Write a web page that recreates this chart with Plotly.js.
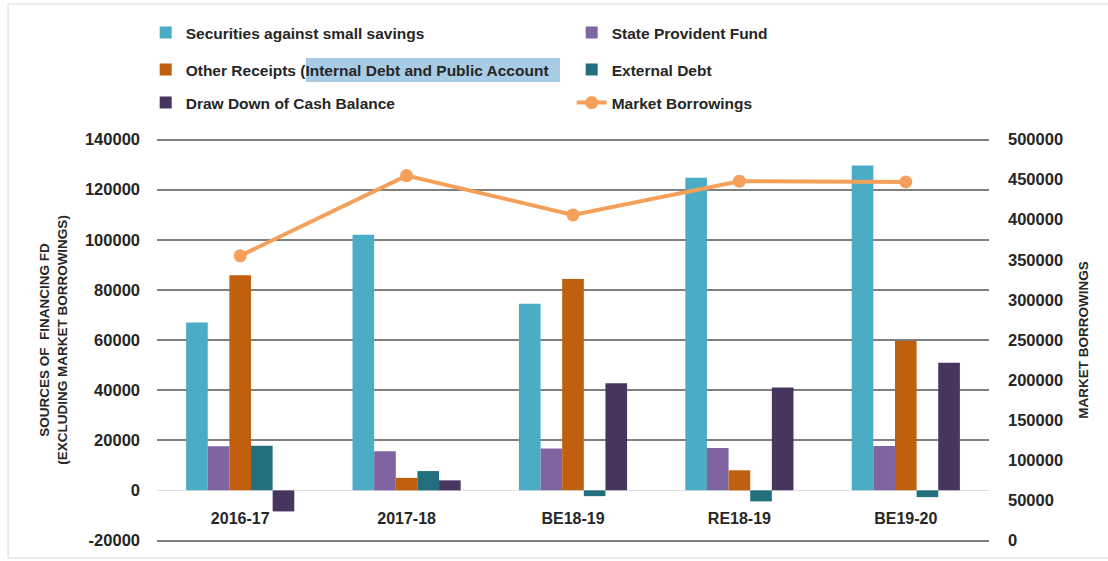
<!DOCTYPE html>
<html>
<head>
<meta charset="utf-8">
<script src="https://cdn.plot.ly/plotly-3.0.1.min.js"></script>
<style>html,body{margin:0;padding:0;background:#fff;}#chart{width:1108px;height:561px;}</style>
</head>
<body>
<div id="chart"></div>
<script>
var categories = ["2016-17", "2017-18", "BE18-19", "RE18-19", "BE19-20"];
var securitiesSmallSavings = [67000, 102000, 74500, 124700, 129600];
var stateProvidentFund = [17600, 15600, 16700, 16900, 17700];
var otherReceipts = [85800, 5000, 84300, 8000, 59600];
var externalDebt = [17800, 7700, -2300, -4400, -2700];
var drawDownCashBalance = [-8400, 4000, 42700, 41000, 50900];
var marketBorrowings = [355000, 455000, 406000, 448000, 447000];

var leftTicks = [-20000, 0, 20000, 40000, 60000, 80000, 100000, 120000, 140000];
var rightTicks = [0, 50000, 100000, 150000, 200000, 250000, 300000, 350000, 400000, 450000, 500000];

var seriesNames = [
  "Securities against small savings",
  "State Provident Fund",
  "Other Receipts (Internal Debt and Public Account",
  "External Debt",
  "Draw Down of Cash Balance",
  "Market Borrowings"
];

var barColors = ["#4BACC6", "#8064A2", "#C0600E", "#22707E", "#47345F"];
var lineColor = "#F5A05A";

var barSeries = [securitiesSmallSavings, stateProvidentFund, otherReceipts, externalDebt, drawDownCashBalance];
var legendIds = ["legend", "legend", "legend2", "legend2", "legend3"];

var traces = barSeries.map(function (vals, i) {
  return {
    type: "bar",
    name: seriesNames[i],
    x: categories,
    y: vals,
    marker: {color: barColors[i]},
    legend: legendIds[i]
  };
});

traces.push({
  type: "scatter",
  mode: "lines+markers",
  name: seriesNames[5],
  x: categories,
  y: marketBorrowings,
  yaxis: "y2",
  line: {color: lineColor, width: 4},
  marker: {color: lineColor, size: 13},
  legend: "legend3"
});

var fam = "Liberation Sans, Arial, sans-serif";
var txt = "#262626";
var legendFont = {family: fam, size: 15.5, color: txt, weight: "bold"};
var yTickFont = {family: fam, size: 16.5, color: txt, weight: "bold"};
var xTickFont = {family: fam, size: 16, color: txt, weight: "bold"};
var titleFont = {family: fam, size: 13.5, color: txt, weight: "bold"};

// plot area spans 404px (y 138..542); each 1000 units = ~2.5px
var plotTop = 138, plotBottom = 542;
function py(px) { return (plotBottom - px) / (plotBottom - plotTop); }

function legendAt(y) {
  return {
    orientation: "h",
    x: -0.0136,
    xanchor: "left",
    y: y,
    yanchor: "middle",
    entrywidth: 381,
    bgcolor: "rgba(0,0,0,0)",
    font: legendFont,
    traceorder: "normal"
  };
}

var layout = {
  width: 1108,
  height: 561,
  paper_bgcolor: "#ffffff",
  plot_bgcolor: "#ffffff",
  margin: {l: 157, r: 119, t: plotTop, b: 561 - plotBottom},
  font: legendFont,
  barmode: "group",
  bargap: 0.35,
  bargroupgap: 0,
  showlegend: true,
  legend: legendAt(py(33)),
  legend2: legendAt(py(70)),
  legend3: legendAt(py(103)),
  xaxis: {
    type: "category",
    anchor: "free",
    position: py(490),
    showline: false,
    showgrid: false,
    ticks: "",
    ticklabelstandoff: 17,
    tickfont: xTickFont
  },
  yaxis: {
    range: [-20600, 140600],
    tickvals: leftTicks,
    ticktext: leftTicks.map(String),
    showgrid: true,
    gridcolor: "#7f7f7f",
    gridwidth: 2,
    zeroline: true,
    zerolinecolor: "#e0e0e0",
    zerolinewidth: 1,
    showline: false,
    ticks: "",
    ticklabelstandoff: 16,
    tickfont: yTickFont,
    automargin: true,
    title: {
      text: "SOURCES OF  FINANCING FD<br>(EXCLUDING MARKET BORROWINGS)",
      font: titleFont,
      standoff: 14
    }
  },
  yaxis2: {
    overlaying: "y",
    side: "right",
    range: [-1875, 501875],
    tickvals: rightTicks,
    ticktext: rightTicks.map(String),
    showgrid: false,
    zeroline: false,
    showline: false,
    ticks: "",
    ticklabelstandoff: 18,
    tickfont: yTickFont,
    automargin: true,
    title: {
      text: "MARKET BORROWINGS",
      font: titleFont,
      standoff: 16
    }
  },
  shapes: [
    {type: "rect", xref: "paper", yref: "paper", x0: -0.179, x1: 1.15, y0: py(558), y1: py(4),
     line: {color: "#d9d9d9", width: 1}, fillcolor: "rgba(0,0,0,0)", layer: "below"},
    {type: "rect", xref: "paper", yref: "paper", x0: 0.179, x1: 0.4844, y0: py(82), y1: py(58),
     line: {width: 0}, fillcolor: "#A9CCE6", layer: "below"}
  ]
};

Plotly.newPlot("chart", traces, layout, {displayModeBar: false, staticPlot: true});
</script>
</body>
</html>
